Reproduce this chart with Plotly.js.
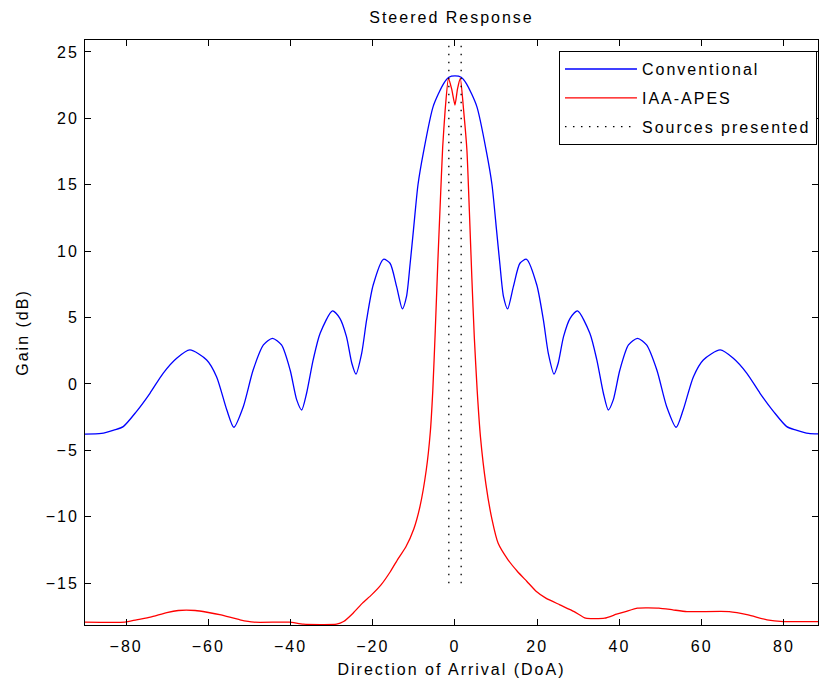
<!DOCTYPE html>
<html>
<head>
<meta charset="utf-8">
<script src="https://cdn.plot.ly/plotly-3.0.1.min.js"></script>
<style>
html,body{margin:0;padding:0;background:#fff;}
#chart{width:819px;height:688px;}
svg text{letter-spacing:2px;}
</style>
</head>
<body>
<div id="chart"></div>
<script>
// Conventional (blue) response
var convDoA = [-90, -86, -83, -80.7, -77.5, -74.2, -71, -67.7, -64.5, -60.4, -58, -55.5, -53.8, -51.5, -49.1, -46.6, -44.4, -42.2, -40.1, -38.5, -37.3, -36.1, -34.5, -32.8, -29.8, -28, -26.4, -25.1, -24.1, -22.7, -21.5, -19.9, -17.4, -15.8, -14.2, -12.8, -11.8, -10.9, -10.1, -9, -7.7, -5.3, -2.8, -1.5, 0,
  1.5, 2.8, 5.3, 7.7, 9, 10.1, 10.9, 11.8, 12.8, 14.2, 15.8, 17.4, 19.9, 21.5, 22.7, 24.1, 25.1, 26.4, 28, 29.8, 32.8, 34.5, 36.1, 37.3, 38.5, 40.1, 42.2, 44.4, 46.6, 49.1, 51.5, 53.8, 55.5, 58, 60.4, 64.5, 67.7, 71, 74.2, 77.5, 80.7, 83, 86, 90];
var convGain = [-3.77, -3.72, -3.47, -3.21, -2.08, -0.70, 0.80, 1.93, 2.56, 1.81, 0.55, -1.96, -3.26, -1.71, 1.05, 2.94, 3.44, 2.94, 1.05, -1.2, -1.96, -0.7, 1.81, 3.82, 5.5, 4.94, 3.56, 1.56, 0.75, 2.31, 4.82, 7.45, 9.39, 9.09, 7.33, 5.65, 6.57, 9.09, 11.6, 15.0, 17.4, 20.9, 22.6, 23.1, 23.2,
  23.1, 22.6, 20.9, 17.4, 15.0, 11.6, 9.09, 6.57, 5.65, 7.33, 9.09, 9.39, 7.45, 4.82, 2.31, 0.75, 1.56, 3.56, 4.94, 5.5, 3.82, 1.81, -0.7, -1.96, -1.2, 1.05, 2.94, 3.44, 2.94, 1.05, -1.71, -3.26, -1.96, 0.55, 1.81, 2.56, 1.93, 0.80, -0.70, -2.08, -3.21, -3.47, -3.72, -3.77];

// IAA-APES (red) response
var apesDoA = [-90, -80.3, -77.5, -74.1, -70.1, -67.3, -63.2, -60.3, -56.9, -52.3, -48.9, -40.3, -36.9, -28.8, -27.1, -24.8, -22.5, -20.3, -18.0, -15.7, -14.0, -12, -10, -8.5, -7, -6, -5.4, -4.8, -4.2, -3.6, -3, -2.4, -1.6, -0.8, 0, 0.6, 1.3, 2.1, 2.9, 3.5, 4.1, 4.7, 5.4, 6.2, 7.5, 9, 10.5, 12.9, 15.2, 17.5, 19.8, 22.1, 25.5, 29.0, 31.8, 36.4, 39.3, 41.5, 44.4, 49.6, 53.0, 56.4, 66.7, 71.3, 75.9, 79.9, 90];
var apesGain = [-17.94, -17.94, -17.76, -17.56, -17.21, -17.06, -17.06, -17.19, -17.39, -17.76, -17.94, -17.94, -18.09, -18.09, -17.89, -17.26, -16.5, -15.88, -15.13, -14.12, -13.24, -12.3, -10.9, -9.2, -6.5, -3.6, -0.5, 4, 9, 13.5, 17.8, 20.6, 23.0, 22.2, 21.0, 22.2, 23.0, 20.6, 17.6, 13, 8, 3.5, -0.5, -4, -7.5, -10.2, -12, -13.24, -14.12, -14.87, -15.63, -16.13, -16.63, -17.14, -17.64, -17.64, -17.34, -17.14, -16.88, -16.88, -17.01, -17.14, -17.14, -17.39, -17.76, -17.89, -17.89];

// Source directions
var sourceDoA = [-1.5, 1.5];
var sourceSpan = [-15, 26];

var xTicks = [-80, -60, -40, -20, 0, 20, 40, 60, 80];
var yTicks = [-15, -10, -5, 0, 5, 10, 15, 20, 25];

var srcX = [], srcY = [];
sourceDoA.forEach(function (d, i) {
  if (i > 0) { srcX.push(null); srcY.push(null); }
  srcX.push(d, d); srcY.push(sourceSpan[0], sourceSpan[1]);
});

var font = {family: 'Liberation Sans, Arial, sans-serif', size: 16, color: '#000'};

var traces = [
  {x: convDoA, y: convGain, type: 'scatter', mode: 'lines', name: 'Conventional', legendgroup: 'a',
   line: {color: '#0000ff', width: 1.3, shape: 'spline', smoothing: 0.7}},
  {x: apesDoA, y: apesGain, type: 'scatter', mode: 'lines', name: 'IAA-APES', legendgroup: 'b',
   line: {color: '#ff0000', width: 1.3, shape: 'spline', smoothing: 0.5}},
  {x: srcX, y: srcY, type: 'scatter', mode: 'lines', name: 'Sources presented', legendgroup: 'c',
   line: {color: '#000000', width: 1.3, dash: '1.5px,6.5px'}}
];

var axisCommon = {
  showline: true, linecolor: '#000', linewidth: 1, mirror: 'ticks',
  ticks: 'inside', ticklen: 6, tickcolor: '#000', tickwidth: 1,
  showgrid: false, zeroline: false, tickfont: font
};

var layout = {
  width: 819, height: 688,
  paper_bgcolor: '#fff', plot_bgcolor: '#fff',
  margin: {l: 85, r: 1, t: 40, b: 63},
  font: font,
  showlegend: true,
  title: {text: 'Steered Response', font: font, x: 0.5, xref: 'paper', y: 0.975, yanchor: 'middle'},
  xaxis: Object.assign({}, axisCommon, {
    range: [-90, 88.3], tickvals: xTicks, ticklabelstandoff: 7,
    title: {text: 'Direction of Arrival (DoA)', font: font, standoff: 9}
  }),
  yaxis: Object.assign({}, axisCommon, {
    range: [-18.15, 25.9], tickvals: yTicks, ticklabelstandoff: 2,
    title: {text: 'Gain (dB)', font: font, standoff: 13}
  }),
  legend: {
    x: 0.9986, xanchor: 'right', y: 0.981, yanchor: 'top',
    bgcolor: '#fff', bordercolor: '#000', borderwidth: 1,
    font: font, itemwidth: 72, tracegroupgap: 5
  }
};

Plotly.newPlot('chart', traces, layout, {displayModeBar: false, staticPlot: true});
</script>
</body>
</html>
